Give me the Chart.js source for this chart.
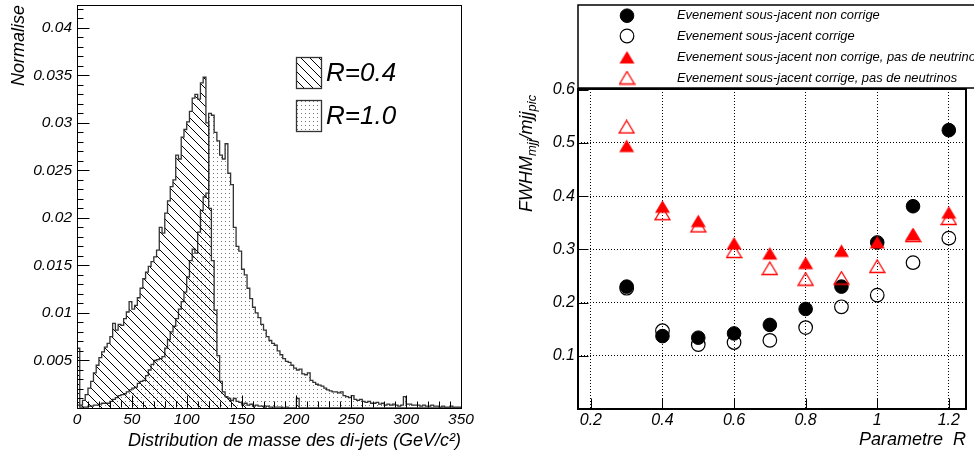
<!DOCTYPE html>
<html>
<head>
<meta charset="utf-8">
<script src="https://cdn.jsdelivr.net/npm/chart.js@4.4.1/dist/chart.umd.min.js"></script>
<style>
  html, body { margin: 0; padding: 0; background: #fff; }
  #wrap { position: relative; width: 974px; height: 456px; overflow: hidden; }
  canvas { position: absolute; top: 0; }
  #massChart { left: 0; }
  #fwhmChart { left: 487px; }
</style>
</head>
<body>
<div id="wrap">
  <canvas id="massChart" width="487" height="456"></canvas>
  <canvas id="fwhmChart" width="487" height="456"></canvas>
</div>
<script>
// left panel: di-jet mass, bins of 2.5 GeV from 0 to 350
const binWidth = 2.5;
const r04Values = [
  0.0063, 0.0003, 0.0008, 0.0014, 0.0021, 0.0028, 0.0037, 0.0045, 0.0053, 0.0059,
  0.0064, 0.0068, 0.0075, 0.0089, 0.0082, 0.0088, 0.0087, 0.0094, 0.0101, 0.0112,
  0.0104, 0.0108, 0.0116, 0.0126, 0.0136, 0.0143, 0.0149, 0.0154, 0.0159, 0.0166,
  0.0190, 0.0184, 0.0205, 0.0218, 0.0233, 0.0240, 0.0266, 0.0262, 0.0285, 0.0293,
  0.0301, 0.0312, 0.0326, 0.0330, 0.0325, 0.0342, 0.0348, 0.0300, 0.0210, 0.0155,
  0.0103, 0.0055, 0.0028, 0.0017, 0.0012, 0.0010, 0.0008, 0.0010, 0.0007, 0.0006,
  0.0004, 0.0005, 0.0003, 0.0004, 0.0002, 0.0003, 0.0002, 0.0002, 0.0001, 0.0002,
  0.0001, 0.0001, 0.0001, 0.0001, 0.0001, 0, 0.0001, 0, 0, 0,
  0.0010, 0, 0, 0, 0, 0, 0, 0, 0, 0,
  0, 0, 0, 0, 0, 0, 0, 0, 0, 0,
  0, 0, 0, 0, 0, 0, 0, 0, 0, 0,
  0, 0, 0, 0, 0, 0, 0, 0, 0, 0,
  0, 0, 0, 0, 0, 0, 0, 0, 0, 0,
  0, 0, 0, 0, 0, 0, 0, 0, 0, 0
];
const r10Values = [
  0.0003, 0.0001, 0.0001, 0.0001, 0.0002, 0.0002, 0.0003, 0.0003, 0.0004, 0.0005,
  0.0005, 0.0005, 0.0007, 0.0009, 0.0011, 0.0013, 0.0014, 0.0015, 0.0017, 0.0019,
  0.0021, 0.0022, 0.0026, 0.0028, 0.0029, 0.0034, 0.0040, 0.0046, 0.0050, 0.0051,
  0.0052, 0.0054, 0.0063, 0.0072, 0.0080, 0.0086, 0.0094, 0.0104, 0.0112, 0.0122,
  0.0138, 0.0155, 0.0167, 0.0163, 0.0185, 0.0208, 0.0222, 0.0226, 0.0310, 0.0308,
  0.0290, 0.0281, 0.0266, 0.0262, 0.0278, 0.0247, 0.0235, 0.0190, 0.0170, 0.0165,
  0.0146, 0.0140, 0.0126, 0.0115, 0.0106, 0.0100, 0.0095, 0.0088, 0.0082, 0.0075,
  0.0071, 0.0068, 0.0066, 0.0060, 0.0056, 0.0052, 0.0049, 0.0048, 0.0045, 0.0042,
  0.0040, 0.0041, 0.0036, 0.0035, 0.0037, 0.0029, 0.0027, 0.0025, 0.0024, 0.0023,
  0.0021, 0.0019, 0.0018, 0.0017, 0.0017, 0.0016, 0.0017, 0.0013, 0.0012, 0.0011,
  0.0013, 0.0009, 0.0008, 0.0009, 0.0007, 0.0006, 0.0007, 0.0005, 0.0005, 0.0006,
  0.0004, 0.0005, 0.0003, 0.0004, 0.0003, 0.0004, 0.0003, 0.0002, 0.0003, 0.0012,
  0.0004, 0.0004, 0.0003, 0.0003, 0.0003, 0.0002, 0.0003, 0.0002, 0.0002, 0.0003,
  0.0002, 0.0002, 0.0001, 0.0002, 0.0001, 0.0001, 0.0002, 0.0001, 0.0001, 0.0001
];
const massTicks = [0, 50, 100, 150, 200, 250, 300, 350];
const normTicks = [0.005, 0.01, 0.015, 0.02, 0.025, 0.03, 0.035, 0.04];

// right panel: FWHM / peak versus jet radius R
const rParam = [0.3, 0.4, 0.5, 0.6, 0.7, 0.8, 0.9, 1.0, 1.1, 1.2];
const fwhmNonCorr = [0.230, 0.137, 0.134, 0.142, 0.158, 0.188, 0.230, 0.313, 0.381, 0.524];
const fwhmCorr = [0.227, 0.147, 0.121, 0.125, 0.129, 0.153, 0.192, 0.214, 0.275, 0.321];
const fwhmNonCorrNoNu = [0.494, 0.380, 0.353, 0.311, 0.292, 0.274, 0.297, 0.313, 0.328, 0.369];
const fwhmCorrNoNu = [0.530, 0.367, 0.344, 0.296, 0.264, 0.244, 0.246, 0.268, 0.326, 0.358];
const rTicks = [0.2, 0.4, 0.6, 0.8, 1, 1.2];
const fwhmTicks = [0.1, 0.2, 0.3, 0.4, 0.5, 0.6];

const FONT = "'Liberation Sans', Arial, sans-serif";
Chart.defaults.font.family = FONT;
Chart.defaults.font.style = 'italic';
Chart.defaults.color = '#000';

function histPoints(values) {
    let pts = [{ x: 0, y: 0 }];
    values.forEach((v, i) => pts.push({ x: i * binWidth, y: v }));
    pts.push({ x: values.length * binWidth, y: 0 });
    return pts;
}

function hatchPattern(ctx) {
    const s = 9;
    const c = document.createElement('canvas');
    c.width = s; c.height = s;
    const g = c.getContext('2d');
    g.strokeStyle = '#000';
    g.lineWidth = 1;
    g.beginPath();
    [-s, 0, s].forEach(o => { g.moveTo(o - 1, -1); g.lineTo(o + s + 1, s + 1); });
    g.stroke();
    return ctx.createPattern(c, 'repeat');
}

function dotPattern(ctx) {
    const c = document.createElement('canvas');
    c.width = 4; c.height = 4;
    const g = c.getContext('2d');
    g.fillStyle = '#fff';
    g.fillRect(0, 0, 4, 4);
    g.fillStyle = '#777';
    g.fillRect(1, 1, 1, 1);
    return ctx.createPattern(c, 'repeat');
}

function triangleMarker(filled) {
    const c = document.createElement('canvas');
    c.width = 17; c.height = 15;
    const g = c.getContext('2d');
    g.beginPath();
    g.moveTo(8.5, 1); g.lineTo(16, 13.5); g.lineTo(1, 13.5); g.closePath();
    if (filled) { g.fillStyle = '#ff0000'; g.fill(); }
    else { g.strokeStyle = '#ff0000'; g.lineWidth = 1.3; g.stroke(); }
    return c;
}

function range(from, to, step) {
    let out = [];
    for (let v = from; v <= to + 1e-9; v += step) out.push(v);
    return out;
}

// ROOT style frame with ticks inside the pad
const framePlugin = {
    id: 'frame',
    afterDatasetsDraw(chart, args, opts) {
        const { ctx, chartArea: a, scales: { x, y } } = chart;
        ctx.save();
        ctx.strokeStyle = '#000';
        ctx.lineWidth = 1;
        ctx.beginPath();
        const l = Math.round(a.left) + 0.5, b = Math.round(a.bottom) - 0.5;
        const tickY = (v, len) => { const py = Math.round(y.getPixelForValue(v)) + 0.5; ctx.moveTo(l, py); ctx.lineTo(l + len, py); };
        const tickX = (v, len) => { const px = Math.round(x.getPixelForValue(v)) + 0.5; ctx.moveTo(px, b); ctx.lineTo(px, b - len); };
        opts.yMajor.forEach(v => tickY(v, opts.major));
        (opts.yMinor || []).forEach(v => tickY(v, opts.minor));
        opts.xMajor.forEach(v => tickX(v, opts.major));
        (opts.xMinor || []).forEach(v => tickX(v, opts.minor));
        ctx.stroke();
        ctx.lineWidth = opts.width;
        const off = opts.width % 2 ? 0.5 : 0;
        ctx.strokeRect(Math.round(a.left) + off, Math.round(a.top) + off,
            Math.round(a.right - a.left), Math.round(a.bottom - a.top));
        ctx.restore();
    }
};

const massLegend = {
    id: 'massLegend',
    afterDraw(chart, args, opts) {
        const ctx = chart.ctx;
        ctx.save();
        chart.data.datasets.forEach((ds, i) => {
            const bx = opts.x, by = opts.y + i * opts.gap;
            ctx.fillStyle = ds.backgroundColor;
            ctx.fillRect(bx, by, opts.w, opts.h);
            ctx.strokeStyle = '#333';
            ctx.lineWidth = 1.3;
            ctx.strokeRect(bx + 0.5, by + 0.5, opts.w, opts.h);
            ctx.fillStyle = '#000';
            ctx.font = 'italic 26px ' + FONT;
            ctx.textBaseline = 'middle';
            ctx.fillText(ds.label, bx + opts.w + 5, by + opts.h / 2 + 1);
        });
        ctx.restore();
    }
};

const fwhmLegend = {
    id: 'fwhmLegend',
    afterDraw(chart, args, opts) {
        const ctx = chart.ctx;
        ctx.save();
        ctx.fillStyle = '#fff';
        ctx.fillRect(opts.x, opts.y, chart.width, opts.h);
        ctx.strokeStyle = '#000';
        ctx.lineWidth = 1.5;
        ctx.strokeRect(opts.x, opts.y, chart.width + 20, opts.h);
        chart.data.datasets.forEach((ds, i) => {
            const my = opts.rows[i];
            if (ds.pointStyle instanceof HTMLCanvasElement) {
                ctx.drawImage(ds.pointStyle, opts.markerX - ds.pointStyle.width / 2, my - ds.pointStyle.height / 2);
            } else {
                ctx.beginPath();
                ctx.arc(opts.markerX, my, ds.pointRadius, 0, 2 * Math.PI);
                ctx.fillStyle = ds.pointBackgroundColor;
                ctx.fill();
                ctx.lineWidth = ds.pointBorderWidth;
                ctx.strokeStyle = ds.pointBorderColor;
                ctx.stroke();
            }
            ctx.fillStyle = '#000';
            ctx.font = 'italic 12.9px ' + FONT;
            ctx.textBaseline = 'middle';
            ctx.fillText(ds.label, opts.textX, my);
        });
        ctx.restore();
    }
};

const fwhmTitle = {
    id: 'fwhmTitle',
    afterDraw(chart) {
        const ctx = chart.ctx;
        ctx.save();
        ctx.translate(45, 212);
        ctx.rotate(-Math.PI / 2);
        ctx.fillStyle = '#000';
        ctx.textBaseline = 'alphabetic';
        let x = 0;
        [['FWHM', 18, 0], ['mjj', 13, 4], ['/mjj', 18, 0], ['pic', 13, 4]].forEach(([t, size, dy]) => {
            ctx.font = 'italic ' + size + 'px ' + FONT;
            ctx.fillText(t, x, dy);
            x += ctx.measureText(t).width;
        });
        ctx.restore();
    }
};

function fixBox(w, h) {
    return function (scale) {
        if (w !== null) scale.width = w;
        if (h !== null) scale.height = h;
        scale.paddingTop = 0; scale.paddingBottom = 0;
        scale.paddingLeft = 0; scale.paddingRight = 0;
    };
}

const fmt = v => String(Number(v.toFixed(3)));

// ---- left chart
const massCtx = document.getElementById('massChart').getContext('2d');
new Chart(massCtx, {
    type: 'line',
    data: {
        datasets: [{
            label: 'R=0.4',
            data: histPoints(r04Values),
            stepped: true,
            fill: 'origin',
            backgroundColor: hatchPattern(massCtx),
            borderColor: '#333',
            borderWidth: 1.3,
            pointRadius: 0
        }, {
            label: 'R=1.0',
            data: histPoints(r10Values),
            stepped: true,
            fill: 'origin',
            backgroundColor: dotPattern(massCtx),
            borderColor: '#333',
            borderWidth: 1.3,
            pointRadius: 0
        }]
    },
    options: {
        responsive: false,
        animation: false,
        layout: { padding: { left: 0, right: 26, top: 5, bottom: 0 } },
        plugins: {
            legend: { display: false },
            tooltip: { enabled: false },
            frame: {
                width: 1, major: 12, minor: 6,
                yMajor: normTicks, yMinor: range(0.001, 0.042, 0.001),
                xMajor: massTicks, xMinor: range(10, 340, 10)
            },
            massLegend: { x: 296, y: 57, w: 25, h: 31, gap: 43 }
        },
        scales: {
            x: {
                type: 'linear', min: 0, max: 350,
                afterBuildTicks: s => { s.ticks = massTicks.map(v => ({ value: v })); },
                afterFit: fixBox(null, 48),
                grid: { display: false, drawTicks: false },
                border: { display: false },
                ticks: { font: { size: 15.5 }, padding: 2, maxRotation: 0, autoSkip: false, callback: v => fmt(v) },
                title: {
                    display: true, align: 'end', text: 'Distribution de masse des di-jets (GeV/c²)',
                    font: { size: 18 }, padding: { top: 0, bottom: 4 }
                }
            },
            y: {
                min: 0, max: 0.0424,
                afterBuildTicks: s => { s.ticks = normTicks.map(v => ({ value: v })); },
                afterFit: fixBox(77, null),
                grid: { display: false, drawTicks: false },
                border: { display: false },
                ticks: { font: { size: 15.5 }, padding: 5, autoSkip: false, callback: v => fmt(v) },
                title: {
                    display: true, align: 'end', text: 'Normalise',
                    font: { size: 18 }, padding: { top: 8, bottom: 0 }
                }
            }
        }
    },
    plugins: [framePlugin, massLegend]
});

// ---- right chart
const fwhmCtx = document.getElementById('fwhmChart').getContext('2d');
const pts = ys => rParam.map((x, i) => ({ x: x, y: ys[i] }));
new Chart(fwhmCtx, {
    type: 'scatter',
    data: {
        datasets: [{
            label: 'Evenement sous-jacent non corrige',
            data: pts(fwhmNonCorr),
            pointStyle: 'circle', pointRadius: 6.8,
            pointBackgroundColor: '#000', pointBorderColor: '#000', pointBorderWidth: 1,
            backgroundColor: '#000', borderColor: '#000',
            order: 4
        }, {
            label: 'Evenement sous-jacent corrige',
            data: pts(fwhmCorr),
            pointStyle: 'circle', pointRadius: 6.8,
            pointBackgroundColor: 'rgba(0,0,0,0)', pointBorderColor: '#000', pointBorderWidth: 1.2,
            backgroundColor: 'rgba(0,0,0,0)', borderColor: '#000',
            order: 3
        }, {
            label: 'Evenement sous-jacent non corrige, pas de neutrinos',
            data: pts(fwhmNonCorrNoNu),
            pointStyle: triangleMarker(true), pointRadius: 7,
            backgroundColor: '#ff0000', borderColor: '#ff0000',
            order: 2
        }, {
            label: 'Evenement sous-jacent corrige, pas de neutrinos',
            data: pts(fwhmCorrNoNu),
            pointStyle: triangleMarker(false), pointRadius: 7,
            backgroundColor: 'rgba(0,0,0,0)', borderColor: '#ff0000',
            order: 1
        }]
    },
    options: {
        responsive: false,
        animation: false,
        layout: { padding: { left: 0, right: 4, top: 89, bottom: 0 } },
        plugins: {
            legend: { display: false },
            tooltip: { enabled: false },
            frame: { width: 2, major: 10, minor: 5, yMajor: fwhmTicks, xMajor: rTicks },
            fwhmLegend: { x: 91, y: 5, h: 83, markerX: 140, textX: 190, rows: [15.7, 36, 57.5, 78] }
        },
        scales: {
            x: {
                type: 'linear', min: 0.164, max: 1.248,
                afterBuildTicks: s => { s.ticks = rTicks.map(v => ({ value: v })); },
                afterFit: fixBox(null, 47),
                grid: { color: '#000', lineWidth: 1, drawTicks: false },
                border: { display: false, dash: [1, 2] },
                ticks: { font: { size: 16 }, padding: 2, maxRotation: 0, autoSkip: false, callback: v => fmt(v) },
                title: {
                    display: true, align: 'end', text: 'Parametre  R',
                    font: { size: 18 }, padding: { top: 0, bottom: 5 }
                }
            },
            y: {
                min: 0, max: 0.6013,
                afterBuildTicks: s => { s.ticks = fwhmTicks.map(v => ({ value: v })); },
                afterFit: fixBox(91, null),
                grid: { color: '#000', lineWidth: 1, drawTicks: false },
                border: { display: false, dash: [1, 2] },
                ticks: { font: { size: 16 }, padding: 3, autoSkip: false, callback: v => fmt(v) }
            }
        }
    },
    plugins: [framePlugin, fwhmLegend, fwhmTitle]
});
</script>
</body>
</html>
